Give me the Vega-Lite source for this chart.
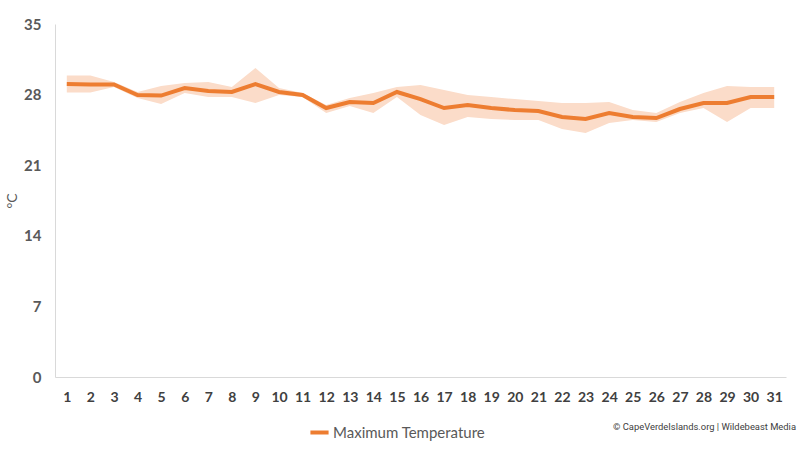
{
  "$schema": "https://vega.github.io/schema/vega-lite/v6.json",
  "autosize": "none",
  "width": 731,
  "height": 353,
  "padding": {"left": 55, "top": 24, "right": 14, "bottom": 73},
  "background": "white",
  "title": {
    "text": "© CapeVerdeIslands.org | Wildebeast Media",
    "orient": "bottom",
    "anchor": "end",
    "offset": -18,
    "dx": 10,
    "font": "Roboto",
    "fontSize": 9.4,
    "fontWeight": "normal",
    "color": "#404040"
  },
  "data": {
    "values": [
      {"day": 1, "max": 29.05, "lo": 28.2, "hi": 29.9},
      {"day": 2, "max": 29.0, "lo": 28.2, "hi": 29.9},
      {"day": 3, "max": 29.0, "lo": 28.75, "hi": 29.25},
      {"day": 4, "max": 27.96, "lo": 27.66, "hi": 28.26},
      {"day": 5, "max": 27.9, "lo": 27.07, "hi": 28.85},
      {"day": 6, "max": 28.65, "lo": 28.16, "hi": 29.15},
      {"day": 7, "max": 28.36, "lo": 27.76, "hi": 29.25},
      {"day": 8, "max": 28.26, "lo": 27.76, "hi": 28.75},
      {"day": 9, "max": 29.05, "lo": 27.17, "hi": 30.64},
      {"day": 10, "max": 28.26, "lo": 27.96, "hi": 28.65},
      {"day": 11, "max": 27.96, "lo": 27.76, "hi": 28.16},
      {"day": 12, "max": 26.67, "lo": 26.17, "hi": 26.97},
      {"day": 13, "max": 27.27, "lo": 26.87, "hi": 27.66},
      {"day": 14, "max": 27.17, "lo": 26.17, "hi": 28.16},
      {"day": 15, "max": 28.26, "lo": 27.76, "hi": 28.75},
      {"day": 16, "max": 27.56, "lo": 25.98, "hi": 28.95},
      {"day": 17, "max": 26.67, "lo": 24.98, "hi": 28.45},
      {"day": 18, "max": 26.97, "lo": 25.78, "hi": 27.96},
      {"day": 19, "max": 26.67, "lo": 25.58, "hi": 27.76},
      {"day": 20, "max": 26.47, "lo": 25.48, "hi": 27.56},
      {"day": 21, "max": 26.37, "lo": 25.48, "hi": 27.36},
      {"day": 22, "max": 25.78, "lo": 24.59, "hi": 27.17},
      {"day": 23, "max": 25.58, "lo": 24.19, "hi": 27.17},
      {"day": 24, "max": 26.17, "lo": 25.18, "hi": 27.27},
      {"day": 25, "max": 25.78, "lo": 25.48, "hi": 26.47},
      {"day": 26, "max": 25.68, "lo": 25.28, "hi": 26.17},
      {"day": 27, "max": 26.57, "lo": 26.17, "hi": 27.27},
      {"day": 28, "max": 27.17, "lo": 26.67, "hi": 28.16},
      {"day": 29, "max": 27.17, "lo": 25.28, "hi": 28.85},
      {"day": 30, "max": 27.76, "lo": 26.67, "hi": 28.75},
      {"day": 31, "max": 27.76, "lo": 26.67, "hi": 28.75}
    ]
  },
  "encoding": {
    "x": {
      "field": "day",
      "type": "ordinal",
      "title": null,
      "scale": {"type": "point", "padding": 0.5},
      "axis": {
        "labelAngle": 0,
        "labelFont": "Lato",
        "labelFontSize": 14,
        "labelFontWeight": "bold",
        "labelColor": "#404040",
        "labelPadding": 13,
        "ticks": false,
        "domainColor": "#d9d9d9",
        "grid": false
      }
    }
  },
  "layer": [
    {
      "mark": {"type": "area", "color": "#fbdcc9", "opacity": 1},
      "encoding": {
        "y": {
          "field": "lo",
          "type": "quantitative",
          "scale": {"domain": [0, 35]},
          "title": "°C",
          "axis": {
            "values": [0, 7, 14, 21, 28, 35],
            "grid": false,
            "ticks": false,
            "domainColor": "#d9d9d9",
            "labelFont": "Lato",
            "labelFontSize": 15,
            "labelFontWeight": "bold",
            "labelColor": "#595959",
            "labelPadding": 14,
            "titleFont": "Lato",
            "titleFontSize": 14,
            "titleFontWeight": "normal",
            "titleColor": "#595959",
            "titlePadding": 4
          }
        },
        "y2": {"field": "hi"}
      }
    },
    {
      "mark": {"type": "line", "strokeWidth": 4},
      "encoding": {
        "y": {"field": "max", "type": "quantitative"},
        "color": {
          "datum": "Maximum Temperature",
          "scale": {"range": ["#ed7d31"]},
          "legend": {
            "title": null,
            "orient": "none",
            "legendX": 253,
            "legendY": 397,
            "padding": 0,
            "symbolType": "stroke",
            "symbolStrokeWidth": 4,
            "symbolSize": 330,
            "labelFont": "Lato",
            "labelFontSize": 15,
            "labelColor": "#595959",
            "labelOffset": 2
          }
        }
      }
    }
  ],
  "config": {
    "view": {"stroke": null}
  }
}
